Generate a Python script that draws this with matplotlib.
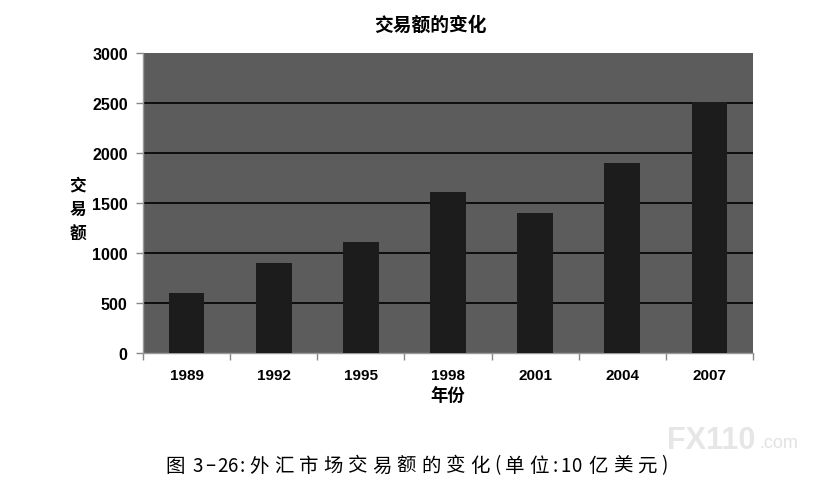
import matplotlib
matplotlib.use("Agg")
import matplotlib.pyplot as plt

years = ["1989", "1992", "1995", "1998", "2001", "2004", "2007"]
volume = [600, 900, 1110, 1610, 1400, 1900, 2510]
y_ticks = [0, 500, 1000, 1500, 2000, 2500, 3000]

title = "交易额的变化"
y_label = "交\n易\n额"
x_label = "年份"
caption = "图 3–26:外汇市场交易额的变化(单位:10 亿美元)"
watermark_big = "FX110"
watermark_small = ".com"

CJK = ["Noto Sans CJK SC", "DejaVu Sans"]
LAT = ["Liberation Sans", "DejaVu Sans"]

W, H = 836, 481
fig = plt.figure(figsize=(W / 100, H / 100), dpi=100)
fig.patch.set_facecolor("white")

left, right, top, bottom = 143, 753, 54, 354
ax = fig.add_axes([left / W, 1 - bottom / H, (right - left) / W, (bottom - top) / H])
ax.set_facecolor("#5c5c5c")

x = list(range(len(years)))
ax.bar(x, volume, width=0.41, color="#1c1c1c", zorder=3)

ax.set_xlim(-0.5, len(years) - 0.5)
ax.set_ylim(0, 3000)
ax.set_yticks(y_ticks)
ax.set_yticklabels([str(v) for v in y_ticks], family=LAT, fontsize=11.5, fontweight="bold")
ax.set_xticks(x)
ax.set_xticklabels(years, family=LAT, fontsize=11, fontweight="bold")
ax.tick_params(axis="x", which="major", length=0, pad=11)
ax.set_xticks([i - 0.5 for i in range(len(years) + 1)], minor=True)
ax.tick_params(axis="x", which="minor", length=5, color="#888888", width=1)
ax.tick_params(axis="y", length=5, color="#888888", width=1, pad=6)

for v in y_ticks[1:-1]:
    ax.axhline(v, color="black", lw=1.2, zorder=2)

for s in ["top", "right"]:
    ax.spines[s].set_visible(False)
for s in ["left", "bottom"]:
    ax.spines[s].set_color("#999999")
    ax.spines[s].set_linewidth(1)

fig.text(430 / W, 1 - 25 / H, title, family=CJK, fontsize=13.5, fontweight="bold",
         ha="center", va="center")
fig.text(78 / W, 1 - 210 / H, y_label, family=CJK, fontsize=12, fontweight="bold",
         ha="center", va="center", linespacing=1.45)
fig.text(448 / W, 1 - 397 / H, x_label, family=CJK, fontsize=12.5, fontweight="bold",
         ha="center", va="center")

# caption laid out character by character with wide spacing (as in the scan)
def advance(ch):
    if ord(ch) > 0x2E80:
        return 24.5
    if ch.isdigit():
        return 10.5
    if ch == " ":
        return 5
    if ch == "–":
        return 14
    if ch == ":":
        return 9
    return 10

cx = 163
for ch in caption:
    a = advance(ch)
    if ch != " ":
        fig.text((cx + a / 2) / W, 1 - 466 / H, ch, family=CJK,
                 fontsize=14 if ord(ch) > 0x2E80 else 13.5,
                 ha="center", va="center")
    cx += a

fig.text(667 / W, 1 - 441 / H, watermark_big, family=LAT, fontsize=22, fontweight="bold",
         color="#e6e6e6", ha="left", va="center")
fig.text(759 / W, 1 - 444 / H, watermark_small, family=LAT, fontsize=13,
         color="#e2e2e2", ha="left", va="center")

fig.savefig("out.png", dpi=100, facecolor="white")
